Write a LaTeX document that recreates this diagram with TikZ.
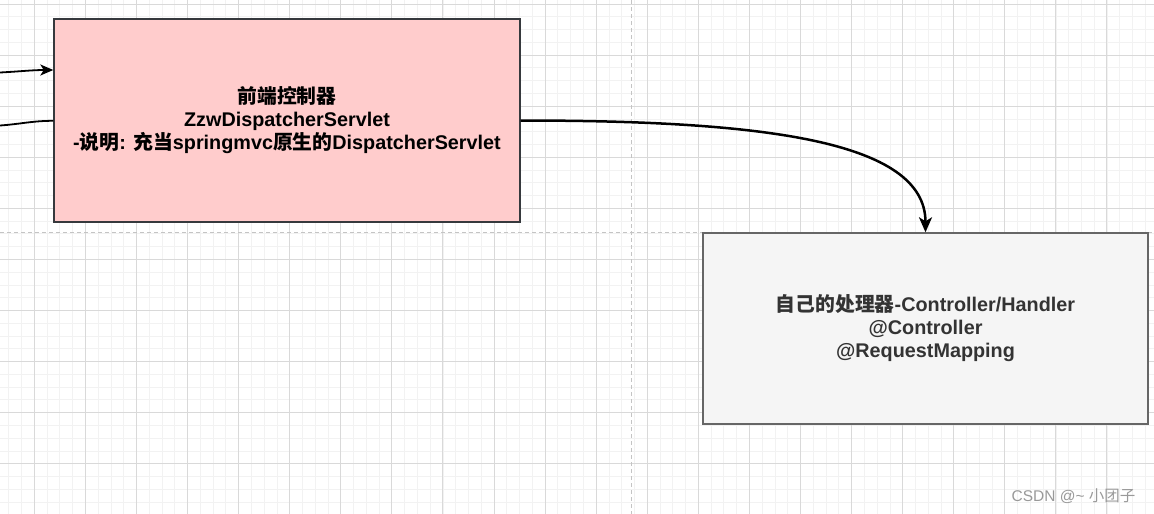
\documentclass[tikz,border=0pt]{standalone}
\usepackage{fontspec}
\usepackage{tikz}
\usetikzlibrary{arrows.meta}
\setmainfont{Liberation Sans}
\newfontfamily\cjk{Noto Sans CJK SC}
\newcommand{\zh}[1]{{\cjk #1}}

\definecolor{gridmin}{HTML}{F2F2F2}
\definecolor{gridmaj}{HTML}{D9D9D9}
\definecolor{pagebrk}{HTML}{C4C4C4}
\definecolor{pinkfill}{HTML}{FFCCCC}
\definecolor{pinkline}{HTML}{36393D}
\definecolor{grayfill}{HTML}{F5F5F5}
\definecolor{grayline}{HTML}{666666}

\tikzset{
	box/.style = {draw, line width=1.4pt, inner sep=0pt, align=center,
		font=\bfseries\fontsize{19.8}{23}\selectfont},
	link/.style = {line width=1.8pt, black}
}

\begin{document}
\begin{tikzpicture}[x=1pt, y=-1pt]
		\useasboundingbox (0,0) rectangle (1154,514);
		\fill[white] (0,0) rectangle (1154,514);
		% background grid
		\foreach \i in {0,...,89}
			\draw[gridmin, line width=0.8pt] (8.76+12.77*\i,0) -- (8.76+12.77*\i,514);
		\foreach \j in {0,...,39}
			\draw[gridmin, line width=0.8pt] (0,4+12.77*\j) -- (1154,4+12.77*\j);
		\foreach \i in {0,...,21}
			\draw[gridmaj, line width=0.8pt] (34.3+51.07*\i,0) -- (34.3+51.07*\i,514);
		\foreach \j in {0,...,9}
			\draw[gridmaj, line width=0.8pt] (0,4+51.07*\j) -- (1154,4+51.07*\j);
		\draw[pagebrk, line width=1pt, dash pattern=on 4pt off 3pt] (631,0) -- (631,514);
		\draw[pagebrk, line width=1pt, dash pattern=on 4pt off 3pt] (0,232.5) -- (1154,232.5);

		\node[box, fill=pinkfill, draw=pinkline, minimum width=466pt, minimum height=203pt]
			(front) at (287,120.5)
			{\zh{前端控制器}\\ZzwDispatcherServlet\\-\zh{说明}: \zh{充当}springmvc\zh{原生的}DispatcherServlet};
		\node[box, fill=grayfill, draw=grayline, text=black!80, minimum width=445pt, minimum height=191pt]
			(handler) at (925.5,328.5)
			{\zh{自己的处理器}-Controller/Handler\\@Controller\\@RequestMapping};

		\coordinate (inA) at (0,72.5);
		\coordinate (outB) at (0,125.5);
		\draw[link, -{Stealth[length=13pt, width=11pt, inset=3.5pt]}]
			(inA) to[out=3, in=180] ([yshift=50.5pt]front.west);
		\draw[link] ([yshift=-0.3pt]front.west) to[out=180, in=4] (outB);
		\draw[link, line width=2.5pt, -{Stealth[length=15pt, width=13pt, inset=4pt]}]
			(front.east) .. controls (760,120.5) and (925.5,140) .. (handler.north);

		\node[anchor=east, text=black!40, font=\fontsize{15.5}{18}\selectfont]
			(mark) at (1139,496) {CSDN @\textasciitilde{} \zh{小团子}};
	\end{tikzpicture}
\end{document}
